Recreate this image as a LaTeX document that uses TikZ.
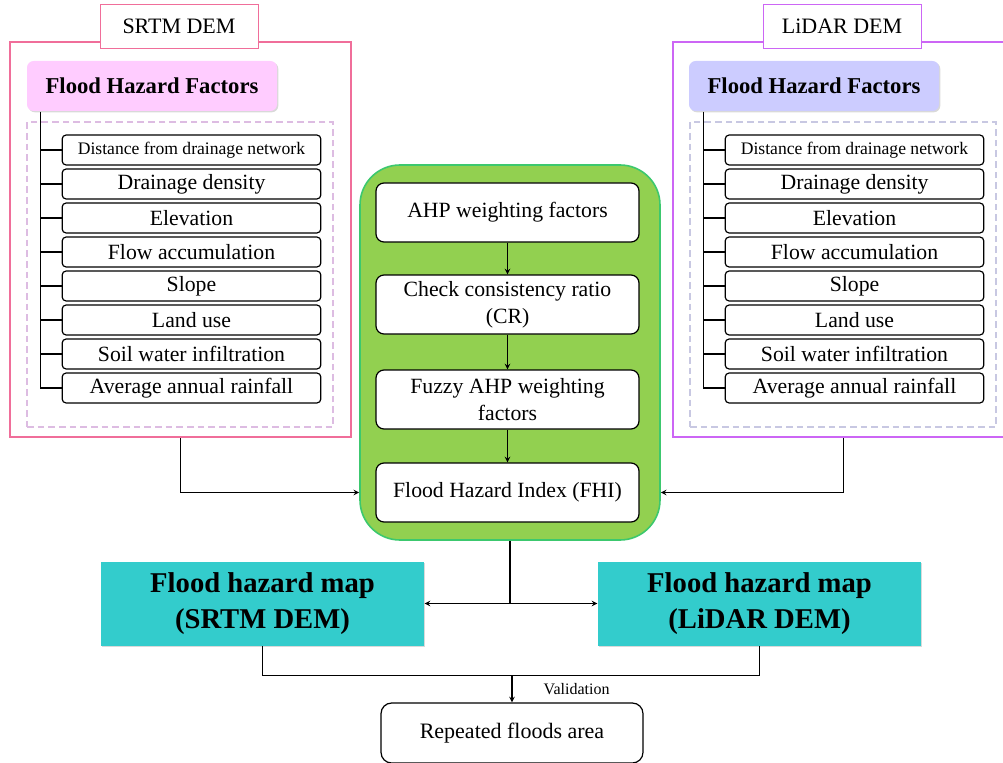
\documentclass[tikz,border=0pt]{standalone}
\usepackage{fontspec}
\setmainfont{Liberation Serif}
\usetikzlibrary{shadows}
\definecolor{srtmline}{HTML}{F06E9A}
\definecolor{srtmfill}{HTML}{FFCCFF}
\definecolor{srtmdash}{HTML}{DDBCE2}
\definecolor{lidarline}{HTML}{CC66F5}
\definecolor{lidarfill}{HTML}{CCCCFF}
\definecolor{lidardash}{HTML}{C8C8E2}
\definecolor{ahpgreen}{HTML}{92D050}
\definecolor{ahpline}{HTML}{3CC86E}
\definecolor{mapteal}{HTML}{33CCCC}
\begin{document}
\begin{tikzpicture}[>=stealth, x=0.75pt, y=-0.75pt, line width=0.9pt,
	demlabel/.style={draw, line width=0.7pt, minimum width=118.5pt, minimum height=33pt, inner sep=0pt, font=\fontsize{16.5}{18}\selectfont},
	demframe/.style={draw, line width=1.3pt, minimum width=255.75pt, minimum height=296.25pt, inner sep=0pt},
	dashbox/.style={draw, line width=2.2pt, dash pattern=on 5pt off 3pt, minimum width=229.5pt, minimum height=228.75pt, inner sep=0pt},
	factorhead/.style={rounded corners=5pt, minimum width=187.5pt, minimum height=37.5pt, inner sep=0pt, font=\bfseries\fontsize{17}{19}\selectfont, drop shadow={opacity=0.3, shadow xshift=1pt, shadow yshift=-1pt}},
	factor/.style={draw, rounded corners=3pt, fill=white, minimum width=194pt, minimum height=22.5pt, inner sep=0pt, font=\fontsize{16.3}{18}\selectfont},
	stepbox/.style={draw, rounded corners=6pt, fill=white, minimum width=197.25pt, minimum height=44.25pt, inner sep=0pt, align=center, font=\fontsize{16.3}{20}\selectfont},
	mapbox/.style={fill=mapteal, minimum width=242.25pt, minimum height=63pt, inner sep=0pt, align=center, font=\bfseries\fontsize{21.5}{27}\selectfont, drop shadow={opacity=0.3, shadow xshift=1pt, shadow yshift=-1pt}}]
	\useasboundingbox (0,0) rectangle (1003,763);

	% hai khung DEM
	\node[demframe, draw=srtmline] (frameL) at (180.5,239.5) {};
	\node[demframe, draw=lidarline] (frameR) at (843.5,239.5) {};
	\node[dashbox, draw=srtmdash] (dashL) at (180,274.5) {};
	\node[dashbox, draw=lidardash] (dashR) at (843,274.5) {};
	\node[demlabel, draw=srtmline, fill=white] (demL) at (179,26) {SRTM DEM};
	\node[demlabel, draw=lidarline, fill=white] (demR) at (842,26) {LiDAR DEM};
	\node[factorhead, fill=srtmfill] (headL) at (152,86) {Flood Hazard Factors};
	\node[factorhead, fill=lidarfill] (headR) at (814,86) {Flood Hazard Factors};
	\coordinate (treeL) at ([xshift=10.5pt]headL.south west);
	\coordinate (treeR) at ([xshift=11.25pt]headR.south west);

	\foreach \s/\cx in {L/191.5, R/854.5}{
		\foreach \t [count=\i] in {{\fontsize{13.2}{15}\selectfont Distance from drainage network}, Drainage density, Elevation, Flow accumulation, Slope, Land use, Soil water infiltration, Average annual rainfall}
			\node[factor] (f\s\i) at (\cx,116+34*\i) {\t};
		\draw (tree\s) |- (f\s8.west);
		\foreach \i in {1,...,7}
			\draw (f\s\i.west -| tree\s) -- (f\s\i.west);
	}

	% khung AHP
	\node[draw=ahpline, line width=1.2pt, fill=ahpgreen, rounded corners=30pt, minimum width=225pt, minimum height=281.25pt] (mid) at (510,352.5) {};
	\node[stepbox] (ahp) at (507.5,212.5) {AHP weighting factors};
	\node[stepbox] (cr) at (507.5,304.5) {Check consistency ratio\\(CR)};
	\node[stepbox] (fahp) at (507.5,399.5) {Fuzzy AHP weighting\\factors};
	\node[stepbox] (fhi) at (507.5,492.5) {Flood Hazard Index (FHI)};
	\draw[->] (ahp) -- (cr);
	\draw[->] (cr) -- (fahp);
	\draw[->] (fahp) -- (fhi);
	\draw[->] (frameL.south) |- (fhi.west -| mid.west);
	\draw[->] (frameR.south) |- (fhi.east -| mid.east);

	% ban do
	\node[mapbox] (mapL) at (262.5,603.5) {Flood hazard map\\(SRTM DEM)};
	\node[mapbox] (mapR) at (759.5,603.5) {Flood hazard map\\(LiDAR DEM)};
	\draw (mid.south) -- (mid.south |- mapL.east) coordinate (split);
	\draw[->] (split) -- (mapL.east);
	\draw[->] (split) -- (mapR.west);

	\node[draw, rounded corners=8pt, minimum width=196.5pt, minimum height=45pt, font=\fontsize{16.5}{18}\selectfont] (rep) at (512,733) {Repeated floods area};
	\path (mapL.south) ++(0,29) coordinate (join);
	\draw (mapL.south) |- (join) -| (mapR.south);
	\draw[->] (rep.north |- join) -- (rep.north) node[midway, right=20pt, font=\fontsize{12}{14}\selectfont] {Validation};
\end{tikzpicture}
\end{document}
